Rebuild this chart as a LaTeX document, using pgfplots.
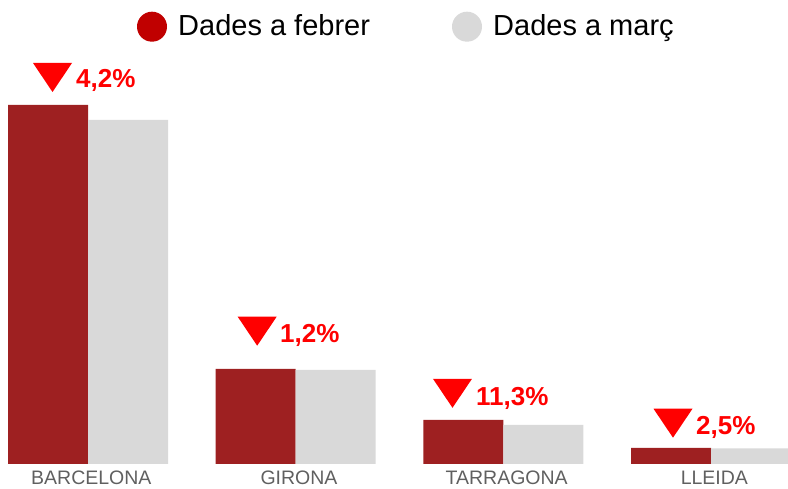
\documentclass[border=0pt]{standalone}
\usepackage{fontspec}
\setmainfont{Liberation Sans}
\usepackage{pgfplots}
\pgfplotsset{compat=1.18}
\definecolor{febr}{RGB}{158,32,33}
\definecolor{marc}{RGB}{217,217,217}
\definecolor{legred}{RGB}{192,0,0}
\definecolor{tickgray}{RGB}{96,96,96}
\pgfdeclareplotmark{downtri}{%
  \pgfpathmoveto{\pgfqpoint{-19.5pt}{14.5pt}}%
  \pgfpathlineto{\pgfqpoint{19.5pt}{14.5pt}}%
  \pgfpathlineto{\pgfqpoint{0pt}{-14.5pt}}%
  \pgfpathclose
  \pgfusepathqfill}
\begin{document}
\begin{tikzpicture}
\begin{axis}[
  at={(0pt,25pt)}, anchor=south west,
  scale only axis, width=788pt, height=464pt,
  xmin=-0.4237, xmax=3.3703, ymin=0, ymax=464,
  axis line style={draw=none},
  tick style={draw=none}, major tick length=0pt,
  xtick={0,1,2,3},
  xticklabels={BARCELONA,GIRONA,TARRAGONA,LLEIDA},
  ytick=\empty,
  xticklabel style={font=\fontsize{19.5}{23}\selectfont, text=tickgray, anchor=base, yshift=-20.5pt, xshift=3.3pt, inner sep=0pt},
  clip=false,
]
\addplot[ybar, bar width=80pt, bar shift=-40pt, fill=febr, draw=none]
  coordinates {(0,359) (1,95) (2,44) (3,16)};
\addplot[ybar, bar width=80pt, bar shift=40pt, fill=marc, draw=none]
  coordinates {(0,344) (1,94) (2,39) (3,15.6)};
\addplot[only marks, mark=downtri, color=red]
  coordinates {(-0.1709,386.5) (0.8146,132.8) (1.7549,70.7) (2.8166,40.8)};
\addplot[draw=none, mark=none, nodes near coords, point meta=explicit symbolic,
  nodes near coords style={anchor=base west, inner sep=0pt, font=\bfseries\fontsize{26}{30}\selectfont, text=red}]
  coordinates {(-0.0578,376.7)[4,2\%] (0.9244,121.3)[1,2\%] (1.8681,58.3)[11,3\%] (2.9273,29)[2,5\%]};
\end{axis}
\fill[legred] (152pt,462.3pt) circle (15pt);
\node[anchor=base west, inner sep=0pt, font=\fontsize{29}{34}\selectfont] at (178pt,453pt) {Dades a febrer};
\fill[marc] (467pt,462.3pt) circle (15pt);
\node[anchor=base west, inner sep=0pt, font=\fontsize{29}{34}\selectfont] at (493pt,453pt) {Dades a març};
\pgfresetboundingbox
\path[use as bounding box] (0pt,0pt) rectangle (788pt,489pt);
\end{tikzpicture}
\end{document}
